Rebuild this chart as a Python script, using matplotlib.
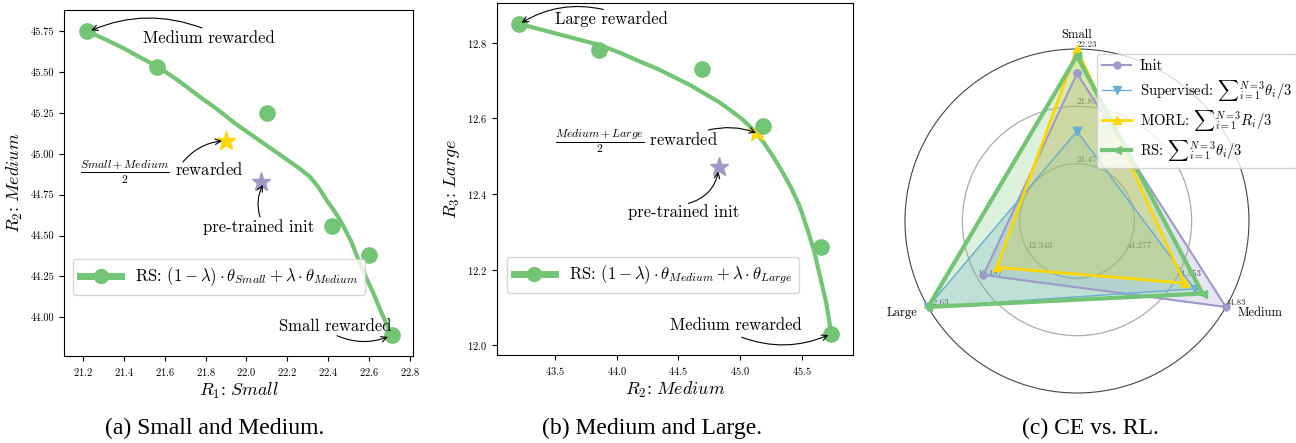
import numpy as np
import matplotlib
matplotlib.use('Agg')
import matplotlib.pyplot as plt
from matplotlib.lines import Line2D

plt.rcParams['font.family'] = 'serif'
plt.rcParams['font.serif'] = ['cmr10']
plt.rcParams['mathtext.fontset'] = 'cm'
plt.rcParams['axes.formatter.use_mathtext'] = True
plt.rcParams['axes.unicode_minus'] = False

green = '#74c476'
purple = '#9e9ac8'
yellow = '#ffd700'
blue = '#6baed6'

# (a) Small and Medium
a_x = [21.22, 21.56, 22.10, 22.42, 22.60, 22.71]
a_y = [45.75, 45.53, 45.25, 44.56, 44.38, 43.89]
a_curve_x = [21.22, 21.31, 21.40, 21.48, 21.57, 21.67, 21.77, 21.86, 21.94, 22.02, 22.10, 22.18,
             22.26, 22.31, 22.35, 22.39, 22.43, 22.46, 22.51, 22.555, 22.59, 22.62, 22.66, 22.71]
a_curve_y = [45.75, 45.70, 45.645, 45.59, 45.53, 45.445, 45.35, 45.27, 45.19, 45.12, 45.05, 44.98,
             44.91, 44.86, 44.80, 44.72, 44.65, 44.59, 44.47, 44.33, 44.23, 44.15, 44.03, 43.89]
a_morl = (21.90, 45.08)
a_init = (22.07, 44.83)

# (b) Medium and Large
b_x = [43.21, 43.86, 44.69, 45.19, 45.66, 45.74]
b_y = [12.85, 12.78, 12.73, 12.58, 12.26, 12.03]
b_curve_x = [43.21, 43.50, 43.86, 44.03, 44.19, 44.33, 44.46, 44.60, 44.73, 44.83, 44.92, 45.02,
             45.11, 45.19, 45.27, 45.34, 45.41, 45.48, 45.54, 45.60, 45.65, 45.70, 45.74]
b_curve_y = [12.85, 12.825, 12.794, 12.773, 12.75, 12.731, 12.71, 12.687, 12.662, 12.643, 12.622, 12.597,
             12.569, 12.537, 12.498, 12.46, 12.419, 12.37, 12.313, 12.25, 12.18, 12.11, 12.03]
b_morl = (45.14, 12.565)
b_init = (44.83, 12.47)

# (c) CE vs. RL
rewards = ['Small', 'Medium', 'Large']
r_lo = [21.1, 44.0, 12.2]
r_hi = [22.23, 44.83, 12.63]
init_vals = [22.07, 44.83, 12.47]
sup_vals = [21.69, 44.655, 12.63]
morl_vals = [22.23, 44.60, 12.432]
rs_vals = [22.185, 44.70, 12.63]


def arrow(ax, head, tail, rad):
    ax.annotate('', xy=head, xytext=tail,
                arrowprops=dict(arrowstyle='->', color='k', lw=0.8,
                                connectionstyle='arc3,rad=%s' % rad,
                                shrinkA=0, shrinkB=0))


fig = plt.figure(figsize=(12.96, 4.43), dpi=100)

# ---- panel a
ax1 = fig.add_axes([0.0494, 0.1964, 0.2693, 0.781])
ax1.plot(a_curve_x, a_curve_y, color=green, lw=3, solid_capstyle='round', solid_joinstyle='round')
ax1.plot(a_x, a_y, 'o', color=green, ms=11, lw=0)
ax1.plot(*a_morl, '*', color=yellow, ms=14)
ax1.plot(*a_init, '*', color=purple, ms=14)
ax1.set_xlim(21.107, 22.815)
ax1.set_ylim(43.763, 45.88)
ax1.set_xticks(np.round(np.arange(21.2, 22.81, 0.2), 1))
ax1.set_yticks(np.arange(44.0, 45.76, 0.25))
ax1.yaxis.set_major_formatter(matplotlib.ticker.FormatStrFormatter('%.2f'))
ax1.tick_params(labelsize=7.5)
ax1.set_xlabel(r'$R_1\colon\ Small$', fontsize=13, labelpad=2)
ax1.set_ylabel(r'$R_2\colon\ Medium$', fontsize=13, labelpad=4)

ax1.text(21.494, 45.709, 'Medium rewarded', fontsize=12, ha='left', va='center')
arrow(ax1, (21.24, 45.755), (21.782, 45.77), 0.2)
ax1.text(21.584, 44.889, r'$\frac{Small+Medium}{2}$ rewarded', fontsize=12, ha='center', va='center')
arrow(ax1, (21.88, 45.079), (21.689, 44.95), -0.2)
ax1.text(22.061, 44.552, 'pre-trained init', fontsize=12, ha='center', va='center')
arrow(ax1, (22.08, 44.81), (22.066, 44.614), -0.2)
ax1.text(22.433, 43.946, 'Small rewarded', fontsize=12, ha='center', va='center')
arrow(ax1, (22.692, 43.88), (22.443, 43.887), 0.2)

h1 = Line2D([], [], color=green, lw=5, marker='o', ms=10,
            label=r'RS: $(1-\lambda)\cdot\theta_{Small}+\lambda\cdot\theta_{Medium}$')
ax1.legend(handles=[h1], loc='lower left', bbox_to_anchor=(0.026, 0.176),
           borderaxespad=0, fontsize=12, handlelength=2.5)

# ---- panel b
ax2 = fig.add_axes([0.3835, 0.1986, 0.2747, 0.7946])
ax2.plot(b_curve_x, b_curve_y, color=green, lw=3, solid_capstyle='round', solid_joinstyle='round')
ax2.plot(*b_morl, '*', color=yellow, ms=14)
ax2.plot(b_x, b_y, 'o', color=green, ms=11, lw=0)
ax2.plot(*b_init, '*', color=purple, ms=14)
ax2.set_xlim(43.03, 45.916)
ax2.set_ylim(11.974, 12.905)
ax2.set_xticks([43.5, 44.0, 44.5, 45.0, 45.5])
ax2.set_yticks([12.0, 12.2, 12.4, 12.6, 12.8])
ax2.tick_params(labelsize=7.5)
ax2.set_xlabel(r'$R_2\colon\ Medium$', fontsize=13, labelpad=2)
ax2.set_ylabel(r'$R_3\colon\ Large$', fontsize=13, labelpad=4)

ax2.text(43.5, 12.862, 'Large rewarded', fontsize=12, ha='left', va='center')
arrow(ax2, (43.23, 12.853), (43.892, 12.888), 0.2)
ax2.text(44.16, 12.54, r'$\frac{Medium+Large}{2}$ rewarded', fontsize=12, ha='center', va='center')
arrow(ax2, (45.13, 12.562), (44.743, 12.569), -0.15)
ax2.text(44.546, 12.351, 'pre-trained init', fontsize=12, ha='center', va='center')
arrow(ax2, (44.825, 12.459), (44.581, 12.375), 0.3)
ax2.text(44.964, 12.053, 'Medium rewarded', fontsize=12, ha='center', va='center')
arrow(ax2, (45.717, 12.027), (45.014, 12.021), 0.2)

h2 = Line2D([], [], color=green, lw=5, marker='o', ms=10,
            label=r'RS: $(1-\lambda)\cdot\theta_{Medium}+\lambda\cdot\theta_{Large}$')
ax2.legend(handles=[h2], loc='lower left', bbox_to_anchor=(0.028, 0.176),
           borderaxespad=0, fontsize=12, handlelength=2.5)

# ---- panel c (radar)
ax3 = fig.add_axes([0.6983, 0.1106, 0.2654, 0.781], projection='polar')
ax3.set_theta_offset(np.pi / 2)
ax3.set_theta_direction(-1)
angles = np.linspace(0, 2 * np.pi, len(rewards), endpoint=False)
ax3.set_ylim(0, 1)
ax3.set_xticks(angles)
ax3.set_xticklabels([])
ax3.xaxis.grid(False)
ax3.set_yticks([1 / 3, 2 / 3])
ax3.set_yticklabels([])
ax3.yaxis.grid(True, color='#aaaaaa', lw=0.9)
ax3.spines['polar'].set_color('#444444')
ax3.spines['polar'].set_linewidth(0.8)

lo = np.array(r_lo)
hi = np.array(r_hi)
for k, ang in enumerate(angles):
    for f in [1 / 3, 2 / 3, 1.0]:
        v = round(lo[k] + (hi[k] - lo[k]) * f, 3)
        ax3.text(ang, f, str(v), fontsize=6.5, ha='left', va='bottom', color='#333333', zorder=1)

label_pos = [(0.0, 1.08), (np.deg2rad(116.7), 1.19), (np.deg2rad(242.3), 1.15)]
for name, (th, rr) in zip(rewards, label_pos):
    ax3.text(th, rr, name, fontsize=9, ha='center', va='center')

series = [
    (init_vals, purple, 'o', 1.5, 5, 'Init'),
    (sup_vals, blue, 'v', 1.0, 6, r'Supervised: ${\sum}_{i=1}^{N=3}\theta_i/3$'),
    (morl_vals, yellow, '^', 2.0, 6, r'MORL: ${\sum}_{i=1}^{N=3}R_i/3$'),
    (rs_vals, green, '<', 3.0, 6, r'RS: ${\sum}_{i=1}^{N=3}\theta_i/3$'),
]
th_closed = np.concatenate([angles, angles[:1]])
for vals, col, mk, lw, ms, lab in series:
    r = (np.array(vals) - lo) / (hi - lo)
    r = np.concatenate([r, r[:1]])
    ax3.plot(th_closed, r, color=col, marker=mk, lw=lw, ms=ms, label=lab, clip_on=False, zorder=3)
    ax3.fill(th_closed, r, color=col, alpha=0.25, zorder=2)

ax3.legend(loc='upper left', bbox_to_anchor=(1097 / 1296, 1 - 54 / 443),
           bbox_transform=fig.transFigure, borderaxespad=0, fontsize=10.5,
           handlelength=2, labelspacing=0.35, handletextpad=0.6, borderpad=0.35)

# captions
fig.text(215 / 1296, 15 / 443, '(a) Small and Medium.', fontsize=17,
         family='Liberation Serif', ha='center', va='center')
fig.text(652 / 1296, 15 / 443, '(b) Medium and Large.', fontsize=17,
         family='Liberation Serif', ha='center', va='center')
fig.text(1090 / 1296, 15 / 443, '(c) CE vs. RL.', fontsize=17,
         family='Liberation Serif', ha='center', va='center')

fig.savefig('out.png', dpi=100)
